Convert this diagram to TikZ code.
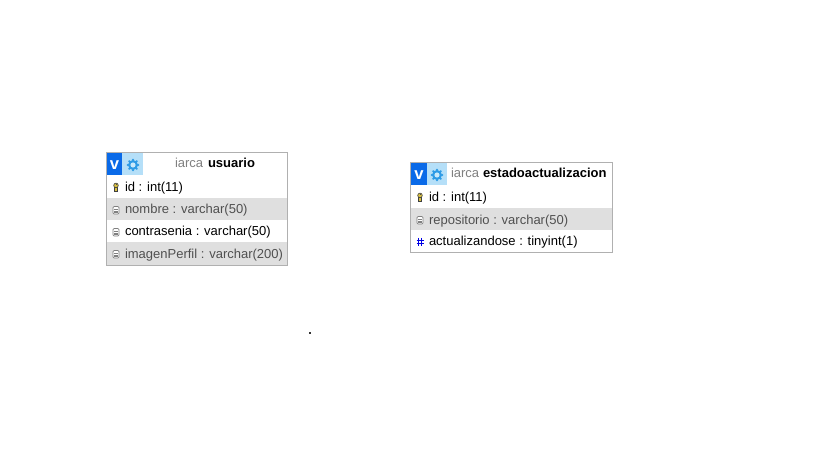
\documentclass[tikz,border=0pt]{standalone}
\usepackage{fontspec}
\setmainfont{Liberation Sans}
\definecolor{rowgrey}{HTML}{DFDFDF}
\definecolor{edgegrey}{HTML}{B0B0B0}
\definecolor{vblue}{HTML}{0A6AE8}
\definecolor{lightb}{HTML}{B5DFF8}
\definecolor{gearb}{HTML}{2E9BE6}
\definecolor{dbtxt}{HTML}{808080}
\definecolor{keyy}{HTML}{D8C040}
\definecolor{greytxt}{HTML}{505050}
\newcommand{\keyicon}[2]{%
  \fill[keyy,draw=black!75,line width=.45pt] (#1-1.3,#2+.5) rectangle (#1+1.3,#2+4);
  \fill[keyy,draw=black!75,line width=.45pt] (#1,#2-1.6) circle[x=.75pt,y=-.75pt,radius=2.3];
  \fill[black!70] (#1-.5,#2-2.6) rectangle (#1+.5,#2-1.6);
}
\newcommand{\fieldicon}[2]{%
  \draw[black!50,fill=white,line width=.5pt,rounded corners=.9pt] (#1-3,#2-3.5) rectangle (#1+3,#2+4);
  \draw[black!50,line width=.4pt] (#1-2,#2-1) -- (#1+2,#2-1) (#1-2,#2+.8) -- (#1+2,#2+.8) (#1-2,#2+2.5) -- (#1+2,#2+2.5);
}
\newcommand{\hashicon}[2]{%
  \draw[blue!90!black,line width=.75pt] (#1-1.5,#2-3) -- (#1-1.5,#2+5) (#1+1.5,#2-3) -- (#1+1.5,#2+5) (#1-3.5,#2-.5) -- (#1+3.5,#2-.5) (#1-3.5,#2+2.5) -- (#1+3.5,#2+2.5);
}
\newcommand{\gearicon}[2]{%
  \fill[gearb] (#1,#2) circle[x=.75pt,y=-.75pt,radius=5];
  \foreach \a in {0,45,...,315} \fill[gearb] (#1,#2) ++(\a:5.2) circle[x=.75pt,y=.75pt,radius=1.2];
  \fill[lightb!70!white] (#1,#2) circle[x=.75pt,y=-.75pt,radius=2.6];
}
\tikzset{
  x=.75pt,y=-.75pt,
  tablebox/.style={draw=edgegrey,line width=.75pt},
  fieldtext/.style={anchor=base west,inner sep=0pt,outer sep=0pt,font=\fontsize{9.75pt}{11pt}\selectfont,text=black},
  fieldgrey/.style={fieldtext,text=greytxt},
  dbtext/.style={fieldtext,text=dbtxt},
  nametext/.style={fieldtext,font=\fontsize{9.75pt}{11pt}\selectfont\bfseries},
  vmark/.style={inner sep=0pt,text=white,font=\fontsize{12.5pt}{12.5pt}\selectfont\bfseries}
}
\begin{document}
\begin{tikzpicture}
\useasboundingbox (0,0) rectangle (819,460);
% table usuario
\fill[white] (106.5,152.5) rectangle (287.5,265.5);
\fill[rowgrey] (107,198) rectangle (287,220);
\fill[rowgrey] (107,242) rectangle (287,265);
\fill[lightb] (122,153) rectangle (143,175);
\fill[vblue] (107,153) rectangle (122,175);
\node[vmark] (v1) at (114.5,165) {v};
\gearicon{133}{165}
\draw[tablebox] (106.5,152.5) rectangle (287.5,265.5);
\node[dbtext] (db1) at (175,168) {iarca};
\node[nametext] (name1) at (208,168) {usuario};
\keyicon{116}{187}
\node[fieldtext] (f11) at (125,191) {id : int(11)};
\fieldicon{116}{210}
\node[fieldgrey] (f12) at (125,214) {nombre : varchar(50)};
\fieldicon{116}{232}
\node[fieldtext] (f13) at (125,235) {contrasenia : varchar(50)};
\fieldicon{116}{254}
\node[fieldgrey] (f14) at (125,258) {imagenPerfil : varchar(200)};
% table estadoactualizacion
\fill[white] (410.5,162.5) rectangle (612.5,252.5);
\fill[rowgrey] (411,208) rectangle (612,230);
\fill[lightb] (427,163) rectangle (447,185);
\fill[vblue] (411,163) rectangle (427,185);
\node[vmark] (v2) at (419,175) {v};
\gearicon{437}{175}
\draw[tablebox] (410.5,162.5) rectangle (612.5,252.5);
\node[dbtext] (db2) at (451,178) {iarca};
\node[nametext] (name2) at (483,178) {estadoactualizacion};
\keyicon{420}{197}
\node[fieldtext] (f21) at (429,201) {id : int(11)};
\fieldicon{420}{220}
\node[fieldgrey] (f22) at (429,224) {repositorio : varchar(50)};
\hashicon{420}{241}
\node[fieldtext] (f23) at (429,245) {actualizandose : tinyint(1)};
% dot
\fill[black!80] (309,332) rectangle (311,334);
\end{tikzpicture}
\end{document}
